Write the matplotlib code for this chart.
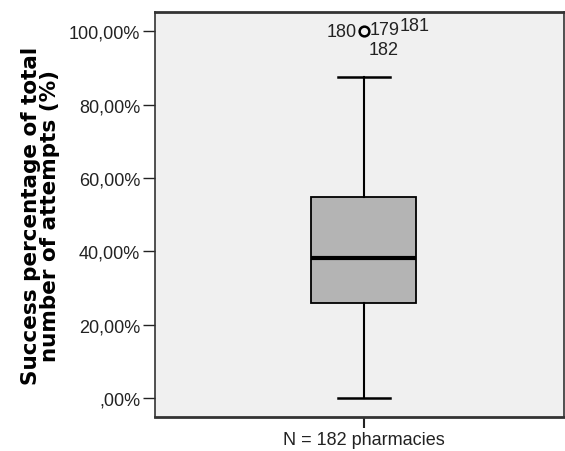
import matplotlib.pyplot as plt
from matplotlib.ticker import FuncFormatter

plt.rcParams['font.family'] = ['Liberation Sans', 'DejaVu Sans']

# box statistics (percent)
q1 = 25.9
median = 38.1
q3 = 54.8
whisker_low = 0.0
whisker_high = 87.5
outlier_values = [100.0, 100.0, 100.0, 100.0]
outlier_ids = ['180', '179', '181', '182']
# offsets (points) for each case label around the outlier marker
label_offsets = [(-5, -0.5, 'right', 'center'), (4.3, 1.5, 'left', 'center'),
                 (26, 4.3, 'left', 'center'), (14.4, -13, 'center', 'center')]
yticks = [0, 20, 40, 60, 80, 100]
xlabel = 'N = 182 pharmacies'
ylabel = 'Success percentage of total\nnumber of attempts (%)'


def pct(v, pos):
    s = ('%.2f%%' % v).replace('.', ',')
    return s.lstrip('0') if v == 0 else s


fig = plt.figure(figsize=(5.65, 4.52), dpi=100)
ax = fig.add_axes([0.274, 0.075, 0.724, 0.896])
ax.set_facecolor('#f0f0f0')

stats = [{'med': median, 'q1': q1, 'q3': q3, 'whislo': whisker_low,
          'whishi': whisker_high, 'fliers': outlier_values[:1]}]
ax.bxp(stats, positions=[1], widths=0.503, capwidths=0.25, patch_artist=True,
       boxprops=dict(facecolor='#b4b4b4', edgecolor='black', linewidth=1.3),
       medianprops=dict(color='black', linewidth=3),
       whiskerprops=dict(color='black', linewidth=1.5),
       capprops=dict(color='black', linewidth=1.8),
       flierprops=dict(marker='o', markersize=7, markerfacecolor='none',
                       markeredgecolor='black', markeredgewidth=1.8),
       manage_ticks=False)

for val, cid, (dx, dy, ha, va) in zip(outlier_values, outlier_ids, label_offsets):
    ax.annotate(cid, (1, val), xytext=(dx, dy), textcoords='offset points',
                ha=ha, va=va, fontsize=13, color='#222222')

ax.set_xlim(0, 1.957)
ax.set_ylim(-5.2, 105.2)
ax.set_xticks([1])
ax.set_xticklabels([xlabel], fontsize=13)
ax.set_yticks(yticks)
ax.yaxis.set_major_formatter(FuncFormatter(pct))
ax.tick_params(axis='y', labelsize=13, length=9, width=1, pad=1.5, colors='#222222')
ax.tick_params(axis='x', length=8, width=1.5, pad=2, colors='#222222')

for s in ax.spines.values():
    s.set_color('#333333')
    s.set_linewidth(1.2)
ax.spines['top'].set_linewidth(2)
ax.spines['bottom'].set_linewidth(2)

fig.text(0.072, 0.522, ylabel, rotation=90, ha='center', va='center',
         fontsize=15.5, fontweight='bold', multialignment='center',
         family=['DejaVu Sans'], linespacing=0.95)

fig.savefig('out.png', dpi=100)
